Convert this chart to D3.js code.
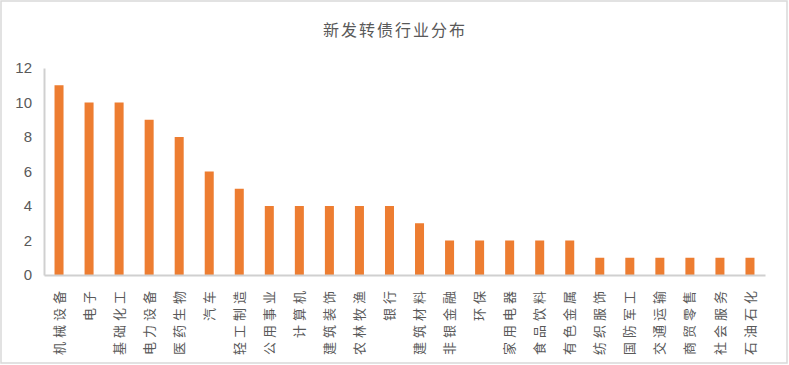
<!DOCTYPE html>
<html><head><meta charset="utf-8">
<script src="https://cdn.jsdelivr.net/npm/d3@7"></script>
<style>
html,body{margin:0;padding:0;background:#fff;}
</style>
</head><body>
<svg id="c" width="789" height="365"></svg>
<script>
const categories = ["机械设备","电子","基础化工","电力设备","医药生物","汽车","轻工制造","公用事业","计算机","建筑装饰","农林牧渔","银行","建筑材料","非银金融","环保","家用电器","食品饮料","有色金属","纺织服饰","国防军工","交通运输","商贸零售","社会服务","石油石化"];
const values = [11,10,10,9,8,6,5,4,4,4,4,4,3,2,2,2,2,2,1,1,1,1,1,1];
const yTicks = [0,2,4,6,8,10,12];
const title = "新发转债行业分布";

const svg = d3.select("#c");
svg.append("rect").attr("x",1).attr("y",1).attr("width",786).attr("height",362)
  .attr("fill","#fff").attr("stroke","#d9d9d9").attr("stroke-width",1.5);

const m = {left:44, right:24, top:68, bottom:90};
const W = 789, H = 365;
const x = d3.scaleBand().domain(categories).range([m.left, W - m.right]).paddingInner(0.7).paddingOuter(0.35);
const y = d3.scaleLinear().domain([0,12]).range([H - m.bottom, m.top]);

svg.append("text").attr("x", 395).attr("y", 36).attr("text-anchor","middle")
  .attr("font-family","'Noto Sans CJK SC', sans-serif").attr("font-size",16).attr("letter-spacing",2)
  .attr("fill","#595959").text(title);

svg.append("g").selectAll("rect").data(categories).join("rect")
  .attr("x", d => x(d)).attr("width", x.bandwidth())
  .attr("y", (d,i) => y(values[i])).attr("height", (d,i) => y(0) - y(values[i]))
  .attr("fill","#ed7d31");

// y axis
const ya = svg.append("g").attr("transform",`translate(${m.left},0)`)
  .call(d3.axisLeft(y).tickValues(yTicks).tickSize(0).tickPadding(12));
ya.select(".domain").attr("stroke","#d0d0d0").attr("stroke-width",2);
ya.selectAll("text").attr("font-family","'Liberation Sans', Arial, sans-serif").attr("font-size",15).attr("fill","#595959");

// x axis
const xa = svg.append("g").attr("transform",`translate(0,${y(0)})`)
  .call(d3.axisBottom(x).tickSize(0).tickPadding(0));
xa.select(".domain").attr("stroke","#d0d0d0").attr("stroke-width",2);
xa.selectAll("text").attr("font-family","'Noto Sans CJK SC', sans-serif").attr("font-size",13)
  .attr("fill","#595959").attr("letter-spacing",4)
  .attr("text-anchor","end").attr("dy","0.35em")
  .attr("transform","translate(0,12) rotate(-90)");
</script>
</body></html>
